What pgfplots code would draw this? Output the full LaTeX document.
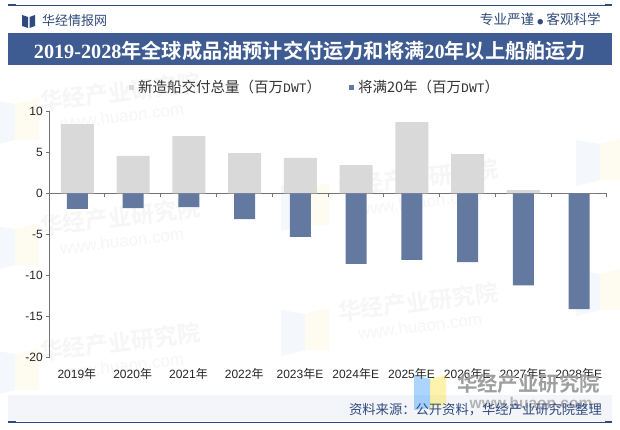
\documentclass[border=0pt]{standalone}
\usepackage{pgfplots}
\pgfplotsset{compat=1.18}
\usepackage{fontspec}
\setmainfont{Liberation Sans}
\setmonofont{Liberation Mono}
\newfontfamily\serifb{Liberation Serif Bold}
\newfontfamily\cjk{Noto Sans CJK SC}
\newfontfamily\cjkb{Noto Sans CJK SC Bold}
\definecolor{navy}{HTML}{3F5C92}
\definecolor{navyd}{HTML}{2F4A7C}
\definecolor{barblue}{HTML}{64799F}
\definecolor{bargray}{HTML}{D9D9D9}
\definecolor{foot}{HTML}{F3F5FA}
\definecolor{wm}{HTML}{F6F6F6}
\definecolor{wmb}{HTML}{F4F8FD}
\definecolor{wmy}{HTML}{FEFBF0}
\pgfplotstableread{
x new old
0 8.43 -1.90
1 4.54 -1.80
2 6.97 -1.67
3 4.90 -3.13
4 4.30 -5.30
5 3.44 -8.60
6 8.67 -8.11
7 4.78 -8.36
8 0.40 -11.20
9 0.00 -14.08
}\datatable
\begin{document}
\begin{tikzpicture}[x=1pt,y=1pt]
\useasboundingbox (0,0) rectangle (620,429);
\fill[white] (0,0) rectangle (620,429);
% pale logos
\foreach \cx/\cy in {15/120,15/245,15/370,305/205,305/330,600/160,600/290}{
  \fill[wmb] (\cx-24,429-\cy+20) -- (\cx,429-\cy+16) -- (\cx,429-\cy-20) -- (\cx-24,429-\cy-26) -- cycle;
  \fill[wmy] (\cx,429-\cy+16) -- (\cx+24,429-\cy+22) -- (\cx+24,429-\cy-20) -- (\cx,429-\cy-20) -- cycle;
}
% watermarks
\foreach \px/\py in {120/92,120/217,120/342,418/178,418/302}{
  \node[rotate=7,text=wm,inner sep=0pt] at (\px,429-\py) {\fontsize{23}{23}\selectfont\cjkb 华经产业研究院};
  \node[rotate=7,text=wm,inner sep=0pt] at (\px+2,429-\py-24) {\fontsize{17}{17}\selectfont www.huaon.com};
}
% header
\draw[navyd,line width=0.8pt] (8,424) -- (612,424);
\fill[navyd] (8,422.6) rectangle (16,425.4);
\fill[navyd] (605,422.6) rectangle (612,425.4);
\fill[navyd] (22,403) -- (28,401) -- (28,412) -- (22,414) -- cycle;
\fill[navyd] (35,403) -- (29.5,401) -- (29.5,412) -- (35,414) -- cycle;
\node[anchor=west,inner sep=0pt,text=navyd] at (42,408.5) {\fontsize{13}{13}\selectfont\cjk 华经情报网};
\node[anchor=east,inner sep=0pt,text=navyd] at (601,410) {\fontsize{13.6}{13.6}\selectfont\cjk 专业严谨 {\fontsize{6}{6}\selectfont ●} 客观科学};
\fill[navy] (8,364) rectangle (612,396);
\node[inner sep=0pt,text=white] at (310,378) {\fontsize{20.2}{20.2}\selectfont{\serifb 2019-2028}\cjkb 年全球成品油预计交付运力和将满{\serifb 20}年以上船舶运力};
% footer
\fill[foot] (8,8) rectangle (612,34);
\draw[navyd,line width=0.8pt] (8,7) -- (612,7);
\fill[navyd] (8,5.6) rectangle (16,8.4);
\fill[navyd] (605,5.6) rectangle (612,8.4);
\begin{axis}[
  at={(49pt,71.3pt)},anchor=south west,
  scale only axis,width=557.7pt,height=246.6pt,
  xmin=-0.5,xmax=9.5,ymin=-20,ymax=10,
  ybar,
  axis x line=middle,axis y line=left,
  axis line style={draw=gray!90!black,-,line width=0.6pt},
  xtick={0,...,9},
  xticklabels={2019{\cjk 年},2020{\cjk 年},2021{\cjk 年},2022{\cjk 年},2023{\cjk 年}E,2024{\cjk 年}E,2025{\cjk 年}E,2026{\cjk 年}E,2027{\cjk 年}E,2028{\cjk 年}E},
  minor xtick={-0.5,0.5,1.5,2.5,3.5,4.5,5.5,6.5,7.5,8.5,9.5},
  ytick={-20,-15,...,10},
  tick align=outside,
  major tick length=3pt,minor tick length=4pt,
  major x tick style={draw=none},
  minor x tick style={draw=gray!90!black,line width=0.6pt},
  y tick style={draw=gray!90!black,line width=0.6pt},
  every x tick label/.style={font=\fontsize{12}{12}\selectfont,yshift=-177.5pt,inner sep=0pt,anchor=center,text=black!85},
  y tick label style={font=\fontsize{12}{12}\selectfont,/pgf/number format/assume math mode=true,inner sep=0pt,xshift=-3pt,text=black!85},
  legend style={at={(80pt,270.5pt)},anchor=west,draw=none,fill=none,legend columns=2,
    font=\fontsize{14.5}{14.5}\selectfont\cjk,text=black!80,
    /tikz/every even column/.style={column sep=26pt},
    /tikz/every odd column/.style={column sep=2pt},inner sep=0pt},
  legend image code/.code={\fill[#1] (0cm,-2.5pt) rectangle (5pt,2.5pt);},
  clip=false,
]
\addplot[fill=bargray,draw=none,bar shift=0.4pt,bar width=33pt] table[x=x,y=new] {\datatable};
\addplot[fill=barblue,draw=none,bar shift=0.4pt,bar width=21pt] table[x=x,y=old] {\datatable};
\legend{新造船交付总量（百万{\ttfamily\fontsize{13}{13}\selectfont DWT}）,将满20年（百万{\ttfamily\fontsize{13}{13}\selectfont DWT}）}
\end{axis}
% foreground watermark & source
\fill[blue!50!cyan,opacity=0.33] (414,54) -- (430,50) -- (430,21) -- (414,19) -- cycle;
\fill[yellow!80!orange,opacity=0.33] (430,50) -- (446,54) -- (446,24) -- (430,21) -- cycle;
\node[inner sep=0pt,text=gray!75] at (528.5,45) {\fontsize{20.4}{20.4}\selectfont\cjkb 华经产业研究院};
\node[inner sep=0pt,text=gray!60] at (531,26) {\fontsize{15.5}{15.5}\selectfont\bfseries www.huaon.com};
\node[anchor=east,inner sep=0pt,text=navyd] at (602,19.5) {\fontsize{13.3}{13.3}\selectfont\cjk 资料来源：公开资料，华经产业研究院整理};
\end{tikzpicture}
\end{document}
